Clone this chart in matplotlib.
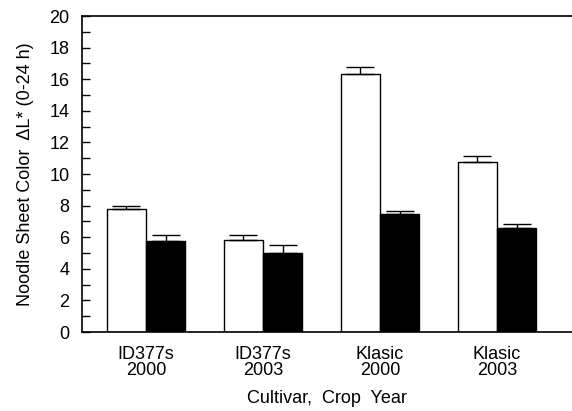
import matplotlib.pyplot as plt
import numpy as np
from matplotlib.ticker import MultipleLocator

plt.rcParams['font.family'] = ['Liberation Sans', 'DejaVu Sans']

groups = ["ID377s\n2000", "ID377s\n2003", "Klasic\n2000", "Klasic\n2003"]
white_vals = [7.77, 5.82, 16.33, 10.76]
white_err = [0.23, 0.30, 0.44, 0.38]
black_vals = [5.74, 5.02, 7.45, 6.56]
black_err = [0.38, 0.49, 0.23, 0.26]

fig = plt.figure(figsize=(5.72, 4.11), dpi=100)
ax = fig.add_axes([0.1434, 0.192, 0.8566, 0.769])

x = np.arange(len(groups))
w = 0.336
ax.bar(x - w / 2, white_vals, w, color="white", edgecolor="black", linewidth=1.0,
       yerr=[np.zeros(4), white_err], error_kw=dict(ecolor="black", elinewidth=1.0, capsize=10, capthick=1.0))
ax.bar(x + w / 2, black_vals, w, color="black", edgecolor="black", linewidth=1.0,
       yerr=[np.zeros(4), black_err], error_kw=dict(ecolor="black", elinewidth=1.0, capsize=10, capthick=1.0))

ax.set_xlim(-0.547, 3.64)
ax.set_ylim(0, 20)
ax.yaxis.set_major_locator(MultipleLocator(2))
ax.yaxis.set_minor_locator(MultipleLocator(1))
ax.tick_params(axis='y', which='both', direction='in', length=5.5, width=1.0, labelsize=13, pad=9)
ax.set_xticks(x)
ax.set_xticklabels(groups, fontsize=13, linespacing=0.95)
ax.tick_params(axis='x', length=0, pad=10)

ax.spines['right'].set_visible(False)
for s in ['top', 'bottom', 'left']:
    ax.spines[s].set_linewidth(1.2)

ax.set_ylabel("Noodle Sheet Color  \u0394L* (0-24 h)", fontsize=13, labelpad=11)
ax.set_xlabel("Cultivar,  Crop  Year", fontsize=13, labelpad=8)

fig.savefig("out.png", dpi=100)
